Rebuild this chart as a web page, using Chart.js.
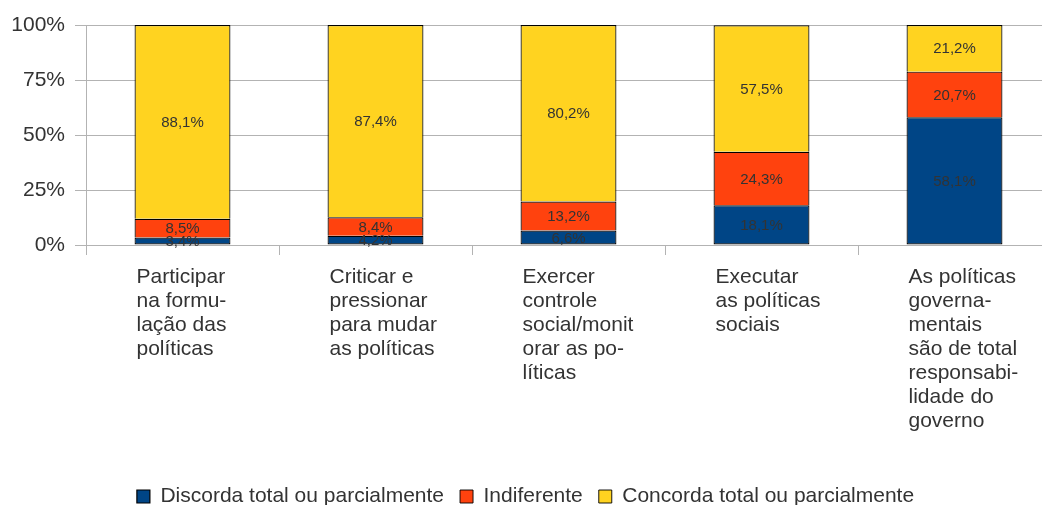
<!DOCTYPE html>
<html>
<head>
<meta charset="utf-8">
<script src="https://cdn.jsdelivr.net/npm/chart.js@4.4.1/dist/chart.umd.min.js"></script>
<style>
html,body{margin:0;padding:0;overflow:hidden;background:#fff;}
#wrap{width:1052px;height:505px;position:relative;}
</style>
</head>
<body>
<div id="wrap"><canvas id="c"></canvas></div>
<script>
const categories = [
  ["Participar","na formu-","lação das","políticas"],
  ["Criticar e","pressionar","para mudar","as políticas"],
  ["Exercer","controle","social/monit","orar as po-","líticas"],
  ["Executar","as políticas","sociais"],
  ["As políticas","governa-","mentais","são de total","responsabi-","lidade do","governo"]
];
const seriesNames = ["Discorda total ou parcialmente","Indiferente","Concorda total ou parcialmente"];
const discorda = [3.4, 4.2, 6.6, 18.1, 58.1];
const indiferente = [8.5, 8.4, 13.2, 24.3, 20.7];
const concorda = [88.1, 87.4, 80.2, 57.5, 21.2];
const yTicks = [0, 25, 50, 75, 100];

const colors = ["#004586", "#ff420e", "#ffd320"];
const FONT = "'Liberation Sans', Arial, sans-serif";

const labelPlugin = {
  id: 'segLabels',
  afterDatasetsDraw(chart) {
    const ctx = chart.ctx;
    ctx.save();
    ctx.font = "15px " + FONT;
    ctx.fillStyle = "#333333";
    ctx.textAlign = "center";
    ctx.textBaseline = "middle";
    chart.data.datasets.forEach((ds, di) => {
      const meta = chart.getDatasetMeta(di);
      meta.data.forEach((el, i) => {
        const v = ds.data[i];
        const y = (el.y + el.base) / 2;
        ctx.fillText(v.toFixed(1).replace('.', ',') + '%', el.x, y + 1);
      });
    });
    ctx.restore();
  }
};

const dataSets = [discorda, indiferente, concorda].map((d, i) => ({
  label: seriesNames[i],
  data: d,
  backgroundColor: colors[i],
  borderColor: "#000000",
  borderWidth: { top: 1.2, left: 1.2, right: 1.2, bottom: i === 0 ? 1.2 : 0 },
  borderSkipped: false,
  barPercentage: 1,
  categoryPercentage: 0.497
}));

Chart.defaults.font.family = FONT;
Chart.defaults.color = "#333333";

new Chart(document.getElementById('c'), {
  type: 'bar',
  data: { labels: categories, datasets: dataSets },
  plugins: [labelPlugin],
  options: {
    responsive: true,
    maintainAspectRatio: false,
    animation: false,
    layout: { padding: { top: 25, right: 1, left: 0, bottom: -12 } },
    plugins: {
      tooltip: { enabled: false },
      legend: {
        position: 'bottom',
        labels: {
          font: { size: 21 },
          color: "#333333",
          boxWidth: 13,
          boxHeight: 13,
          padding: 16
        }
      }
    },
    scales: {
      x: {
        stacked: true,
        offset: true,
        grid: {
          offset: true,
          drawOnChartArea: false,
          drawTicks: true,
          tickLength: 10,
          color: "#b3b3b3"
        },
        border: { color: "#b3b3b3" },
        ticks: {
          align: 'start',
          labelOffset: -46,
          padding: 10,
          maxRotation: 0,
          autoSkip: false,
          font: { size: 21, lineHeight: 1.145 },
          color: "#333333"
        },
        afterFit(scale) { scale.height = 225; scale.paddingLeft = 0; scale.paddingRight = 0; }
      },
      y: {
        stacked: true,
        min: 0,
        max: 100,
        afterBuildTicks(scale) { scale.ticks = yTicks.map(v => ({ value: v })); },
        grid: { color: "#b3b3b3", tickLength: 11 },
        border: { color: "#b3b3b3" },
        ticks: {
          padding: 10,
          font: { size: 21 },
          color: "#333333",
          callback: v => v + '%'
        },
        afterFit(scale) { scale.width = 86; }
      }
    }
  }
});
</script>
</body>
</html>
